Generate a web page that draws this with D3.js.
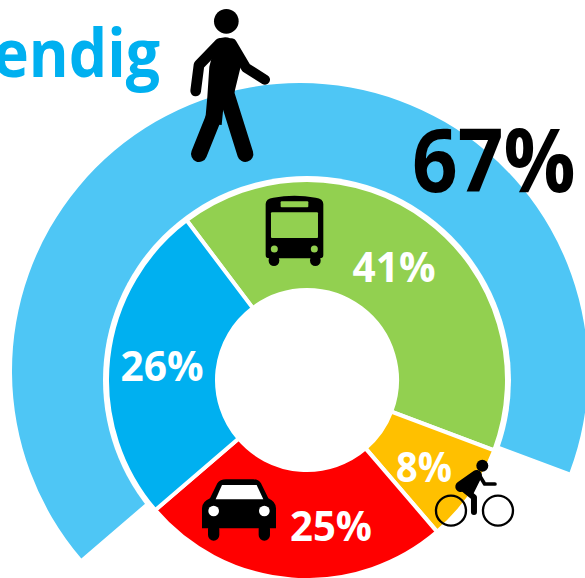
<!DOCTYPE html>
<html>
<head>
<meta charset="utf-8">
<script src="https://cdn.jsdelivr.net/npm/d3@7"></script>
<style>
html,body{margin:0;padding:0;background:#fff;overflow:hidden}
svg{display:block}
text{font-family:"Open Sans",sans-serif;font-weight:700}
</style>
</head>
<body>
<div id="chart"></div>
<script>
const categories = ["Bus", "Fiets", "Auto", "Lopen"];
const shares = [41, 8, 25, 26];
const shareColors = ["#92D050", "#FFC000", "#FF0000", "#00B0F0"];
const ringShare = [67];
const ringTotal = [100];
const ringColor = "#4EC6F5";
const titleText = "endig";

const W = 585, H = 578;
const donutCx = 307, donutCy = 380, ringCx = 300, ringCy = 371;
const rad = d3.scaleLinear().domain([0, 360]).range([0, 2 * Math.PI]);
const pctToDeg = d3.scaleLinear().domain([0, ringTotal[0]]).range([0, 360]);
const startDeg = -37;
const svg = d3.select("#chart").append("svg").attr("width", W).attr("height", H);

// outer ring: 67 of 100, beginning where the "Lopen" slice begins
const ringA0 = rad(startDeg + pctToDeg(d3.sum(shares.slice(0, 3))) - 360);
svg.append("path")
  .attr("transform", `translate(${ringCx},${ringCy})`)
  .attr("d", d3.arc().innerRadius(120).outerRadius(288)
    .startAngle(ringA0).endAngle(ringA0 + rad(pctToDeg(ringShare[0])))())
  .attr("fill", ringColor);

const root = svg.append("g").attr("transform", `translate(${donutCx},${donutCy})`);
root.append("circle").attr("r", 204).attr("fill", "#fff");

// inner donut
const pie = d3.pie().value(d => d).sort(null)
  .startAngle(rad(startDeg)).endAngle(rad(startDeg + 360));
const arc = d3.arc().innerRadius(90).outerRadius(200);
root.selectAll("path.slice").data(pie(shares)).join("path")
  .attr("class", "slice")
  .attr("d", arc)
  .attr("fill", (d, i) => shareColors[i])
  .attr("stroke", "#fff").attr("stroke-width", 4).attr("stroke-linejoin", "miter");

// title, cut off by the page edge
svg.append("text").attr("x", -7).attr("y", 77).attr("font-size", 66)
  .attr("fill", "#00B0F0").attr("textLength", 167).attr("lengthAdjust", "spacingAndGlyphs")
  .text(titleText);

// walker
const walker = svg.append("g").attr("transform", "translate(170,0) scale(0.3333)");
const limb = (g, d, w) => g.append("path").attr("d", d).attr("fill", "none").attr("stroke", "#000")
  .attr("stroke-width", w).attr("stroke-linecap", "round").attr("stroke-linejoin", "round");
walker.append("circle").attr("cx", 169).attr("cy", 64).attr("r", 37);
walker.append("path").attr("d", "M138,122 Q168,100 198,126 L212,200 L195,270 L190,300 L160,325 L155,375 L105,370 L112,290 L118,200 Z");
limb(walker, "M150,130 L87,195 L77,273", 32);
limb(walker, "M185,130 L228,203 L285,239", 30);
limb(walker, "M130,355 L87,462", 48);
limb(walker, "M172,290 L226,462", 48);

// bus
const bus = svg.append("g").attr("transform", "translate(170,0) scale(0.3333)");
bus.append("path").attr("d", "M287,612 Q287,596 310,593 Q373,582 437,593 Q460,596 460,612 L460,765 Q460,775 450,775 L297,775 Q287,775 287,765 Z");
bus.append("rect").attr("x", 296).attr("y", 765).attr("width", 32).attr("height", 33).attr("rx", 16);
bus.append("rect").attr("x", 420).attr("y", 765).attr("width", 32).attr("height", 33).attr("rx", 16);
bus.append("rect").attr("x", 303).attr("y", 637).attr("width", 141).attr("height", 77).attr("rx", 3).attr("fill", shareColors[0]);
bus.append("rect").attr("x", 332).attr("y", 604).attr("width", 83).attr("height", 18).attr("rx", 3).attr("fill", shareColors[0]);
bus.append("circle").attr("cx", 313).attr("cy", 747).attr("r", 10.5).attr("fill", shareColors[0]);
bus.append("circle").attr("cx", 433).attr("cy", 747).attr("r", 10.5).attr("fill", shareColors[0]);

// car
const car = svg.append("g").attr("transform", "translate(190,400) scale(0.3333)");
car.append("path").attr("d", "M36,385 L36,325 Q36,305 60,295 L82,250 Q90,238 108,238 L190,238 Q205,238 213,250 L235,295 Q258,305 258,325 L258,385 Z");
car.append("rect").attr("x", 54).attr("y", 370).attr("width", 34).attr("height", 52).attr("rx", 17);
car.append("rect").attr("x", 206).attr("y", 370).attr("width", 34).attr("height", 52).attr("rx", 17);
car.append("path").attr("d", "M77,298 L96,255 L200,255 L220,298 Z").attr("fill", "#fff");
car.append("circle").attr("cx", 71).attr("cy", 333).attr("r", 16).attr("fill", "#fff");
car.append("circle").attr("cx", 223).attr("cy", 333).attr("r", 16).attr("fill", "#fff");

// cyclist
const bike = svg.append("g").attr("transform", "translate(190,400) scale(0.3333)");
bike.append("circle").attr("cx", 877).attr("cy", 197).attr("r", 18);
bike.selectAll("circle.wheel").data([783, 924]).join("circle").attr("class", "wheel")
  .attr("cx", d => d).attr("cy", 332).attr("r", 45)
  .attr("fill", "none").attr("stroke", "#000").attr("stroke-width", 7);
limb(bike, "M860,226 L812,260", 32);
limb(bike, "M815,262 L852,292 L852,336", 18);
limb(bike, "M866,222 L884,252 L915,252", 11);
limb(bike, "M860,235 L840,275", 24);

// value labels
const labels = shares.map(v => v + "%");
const labelBaselines = [[394, 282, 83], [424, 482, 56], [331, 541, 82], [162, 381, 83]];
svg.selectAll("text.val").data(labels).join("text").attr("class", "val")
  .attr("x", (d, i) => labelBaselines[i][0] - labelBaselines[i][2] / 2)
  .attr("y", (d, i) => labelBaselines[i][1])
  .attr("font-size", 42).attr("fill", "#fff")
  .attr("textLength", (d, i) => labelBaselines[i][2]).attr("lengthAdjust", "spacingAndGlyphs")
  .text(d => d);

svg.append("text").attr("transform", "translate(412,192) scale(0.92,1)")
  .attr("font-size", 87).attr("fill", "#000")
  .text(ringShare[0] + "%");
</script>
</body>
</html>
